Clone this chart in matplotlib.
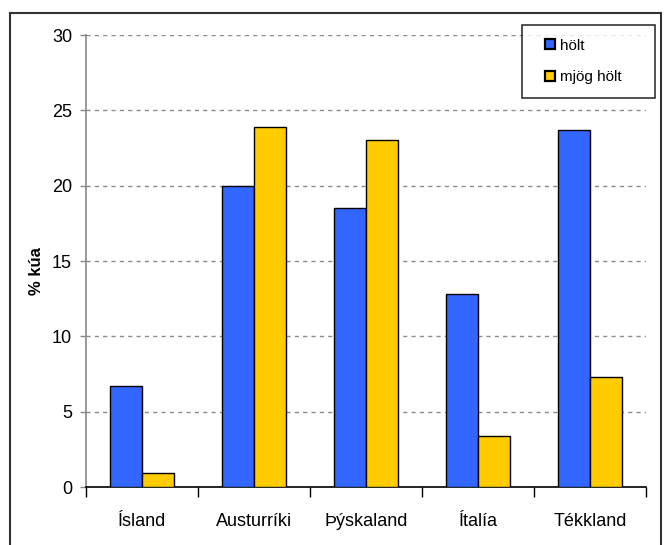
import matplotlib
matplotlib.use("Agg")
from matplotlib import pyplot as plt
from matplotlib.lines import Line2D
from matplotlib.legend_handler import HandlerPatch, update_from_first_child
from matplotlib.container import BarContainer
import matplotlib.patches as mpatches
import numpy as np

# Hlutfall kúa eftir landi
lond = ["Ísland", "Austurríki", "Þýskaland", "Ítalía", "Tékkland"]
holt = [6.7, 20.0, 18.5, 12.8, 23.7]
mjog_holt = [0.9, 23.9, 23.0, 3.4, 7.3]
y_ticks = [0, 5, 10, 15, 20, 25, 30]

plt.rcParams["font.family"] = ["Liberation Sans", "DejaVu Sans"]

W, H = 668, 545
fig = plt.figure(figsize=(W / 100, H / 100), dpi=100)
ax = fig.add_axes([86 / W, 1 - 487 / H, 560 / W, 452 / H])

x = np.arange(len(lond))
bw = 0.29
ax.bar(x - bw / 2, holt, bw, color="#3366FF", edgecolor="black", linewidth=1.0,
       label="hölt", zorder=3)
ax.bar(x + bw / 2, mjog_holt, bw, color="#FFCC00", edgecolor="black", linewidth=1.0,
       label="mjög hölt", zorder=3)

ax.set_xlim(-0.5, len(lond) - 0.5)
ax.set_ylim(0, 30)
ax.set_yticks(y_ticks)
ax.yaxis.grid(True, linestyle=(0, (3, 3)), color="#8c8c8c", linewidth=1.0, zorder=0)
ax.tick_params(axis="y", length=4, width=1, color="#888888", pad=6, labelsize=13)

# ticks between categories, labels centred under each pair
ax.set_xticks(np.arange(-0.5, len(lond), 1.0))
ax.set_xticklabels([])
ax.set_xticks(x, minor=True)
ax.set_xticklabels(lond, minor=True, fontsize=13)
ax.tick_params(axis="x", which="major", length=7, width=1, color="black", direction="out")
ax.tick_params(axis="x", which="minor", length=0, pad=19)

for s in ["top", "right"]:
    ax.spines[s].set_visible(False)
ax.spines["left"].set_color("#888888")
ax.spines["left"].set_linewidth(1.2)
ax.spines["bottom"].set_color("black")
ax.spines["bottom"].set_linewidth(1.2)

ax.set_ylabel("% kúa", fontsize=12, fontweight="bold")
ax.yaxis.set_label_coords(-42 / 560, 0.478)


# small square placed at the right end of the handle area
def square(legend, orig_handle, xdescent, ydescent, width, height, fontsize):
    s = 0.66 * fontsize
    return mpatches.Rectangle((-xdescent + width - s, -ydescent + (height - s) / 2), s, s)


leg = fig.legend(loc="upper left", bbox_to_anchor=(522 / W, 1 - 25 / H, 133 / W, 0),
                 mode="expand", frameon=True, fancybox=False, edgecolor="black",
                 fontsize=11, handlelength=1.25, handleheight=0.7,
                 handletextpad=0.33, labelspacing=1.15, borderpad=0.9,
                 borderaxespad=0,
                 handler_map={BarContainer: HandlerPatch(patch_func=square,
                                                         update_func=update_from_first_child)})
leg.get_frame().set_linewidth(1.2)
for h in leg.legend_handles:
    h.set_linewidth(1.6)

# ytri rammi
frame_kw = dict(color="#333333", linewidth=1.5, transform=fig.transFigure)
fig.add_artist(Line2D([10 / W, 10 / W], [0, 1 - 13 / H], **frame_kw))
fig.add_artist(Line2D([10 / W, 661 / W], [1 - 13 / H, 1 - 13 / H], **frame_kw))
fig.add_artist(Line2D([661 / W, 661 / W], [0, 1 - 13 / H], **frame_kw))

fig.savefig("out.png", dpi=100)
